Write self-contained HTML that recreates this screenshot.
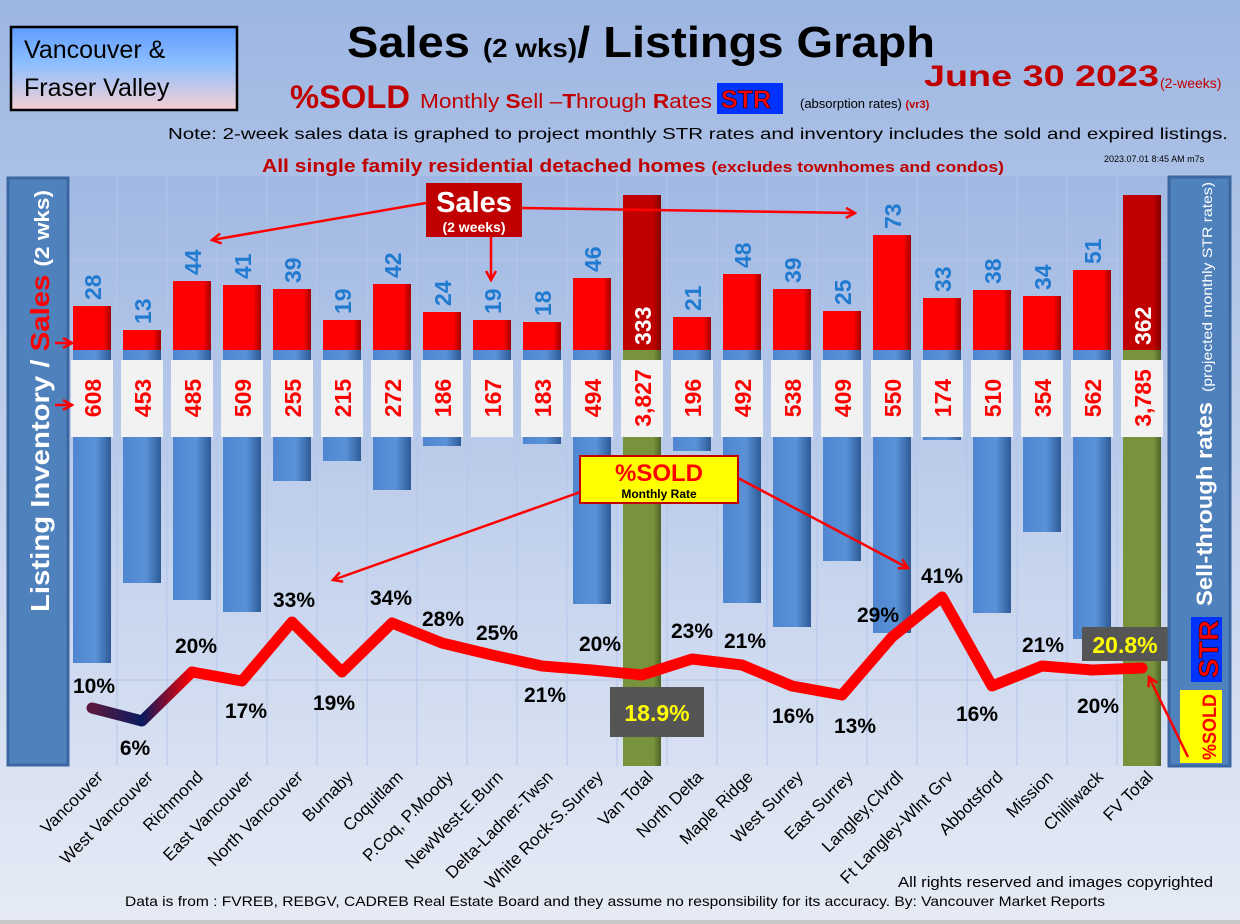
<!DOCTYPE html>
<html><head><meta charset="utf-8"><style>
html,body{margin:0;padding:0;width:1240px;height:924px;overflow:hidden}
svg{display:block}
text{font-family:"Liberation Sans",sans-serif}
</style></head><body>
<svg width="1240" height="924" viewBox="0 0 1240 924" xmlns="http://www.w3.org/2000/svg">
<defs>
<linearGradient id="bg" x1="0" y1="0" x2="0" y2="1"><stop offset="0" stop-color="#9db6e2"/><stop offset="0.6" stop-color="#c8d5ee"/><stop offset="1" stop-color="#e6ebf5"/></linearGradient>
<linearGradient id="plot" x1="0" y1="0" x2="0" y2="1"><stop offset="0" stop-color="#a0b8e3"/><stop offset="1" stop-color="#d8e1f2"/></linearGradient>
<linearGradient id="vbox" x1="0" y1="0" x2="0" y2="1"><stop offset="0" stop-color="#5e9bff"/><stop offset="0.45" stop-color="#8ec0ff"/><stop offset="1" stop-color="#f7cfd2"/></linearGradient>
<linearGradient id="blue" x1="0" y1="0" x2="1" y2="0"><stop offset="0" stop-color="#4f86d0"/><stop offset="0.6" stop-color="#5a92d8"/><stop offset="1" stop-color="#2e5a96"/></linearGradient>
<linearGradient id="red" x1="0" y1="0" x2="1" y2="0"><stop offset="0" stop-color="#ff0000"/><stop offset="0.8" stop-color="#ff0000"/><stop offset="1" stop-color="#a00000"/></linearGradient>
<linearGradient id="dred" x1="0" y1="0" x2="1" y2="0"><stop offset="0" stop-color="#c00000"/><stop offset="0.8" stop-color="#c00000"/><stop offset="1" stop-color="#800000"/></linearGradient>
<linearGradient id="green" x1="0" y1="0" x2="1" y2="0"><stop offset="0" stop-color="#77933c"/><stop offset="0.8" stop-color="#77933c"/><stop offset="1" stop-color="#4f6326"/></linearGradient>
<linearGradient id="seg" x1="92" y1="0" x2="192" y2="0" gradientUnits="userSpaceOnUse"><stop offset="0" stop-color="#5a1a40"/><stop offset="0.5" stop-color="#0a1a60"/><stop offset="1" stop-color="#ff0000"/></linearGradient>
<marker id="ar" markerWidth="12" markerHeight="12" refX="10" refY="6" orient="auto" markerUnits="userSpaceOnUse"><path d="M1,1 L10,6 L1,11" fill="none" stroke="#ff0000" stroke-width="2.5"/></marker>
</defs>
<rect width="1240" height="924" fill="url(#bg)"/>
<rect x="70" y="176" width="1098" height="590" fill="url(#plot)"/>
<g stroke="#b4c6ea" stroke-width="1">
<line x1="70" y1="260" x2="1168" y2="260"/><line x1="70" y1="418" x2="1168" y2="418"/><line x1="70" y1="680" x2="1168" y2="680"/>
<line x1="117" y1="176" x2="117" y2="766"/><line x1="167" y1="176" x2="167" y2="766"/><line x1="217" y1="176" x2="217" y2="766"/><line x1="267" y1="176" x2="267" y2="766"/><line x1="317" y1="176" x2="317" y2="766"/><line x1="367" y1="176" x2="367" y2="766"/><line x1="417" y1="176" x2="417" y2="766"/><line x1="467" y1="176" x2="467" y2="766"/><line x1="517" y1="176" x2="517" y2="766"/><line x1="567" y1="176" x2="567" y2="766"/><line x1="617" y1="176" x2="617" y2="766"/><line x1="667" y1="176" x2="667" y2="766"/><line x1="717" y1="176" x2="717" y2="766"/><line x1="767" y1="176" x2="767" y2="766"/><line x1="817" y1="176" x2="817" y2="766"/><line x1="867" y1="176" x2="867" y2="766"/><line x1="917" y1="176" x2="917" y2="766"/><line x1="967" y1="176" x2="967" y2="766"/><line x1="1017" y1="176" x2="1017" y2="766"/><line x1="1067" y1="176" x2="1067" y2="766"/><line x1="1117" y1="176" x2="1117" y2="766"/>
</g>
<!-- header -->
<rect x="11" y="27" width="226" height="83" fill="url(#vbox)" stroke="#000" stroke-width="2.5"/>
<text x="24" y="58" font-size="25" fill="#000">Vancouver &amp;</text>
<text x="24" y="96" font-size="25" fill="#000">Fraser Valley</text>
<text x="347" y="57" font-size="44" font-weight="bold" fill="#000" textLength="588" lengthAdjust="spacingAndGlyphs">Sales <tspan font-size="26">(2 wks)</tspan>/ Listings Graph</text>
<text x="924" y="86" font-size="30" font-weight="bold" fill="#c00000" textLength="235" lengthAdjust="spacingAndGlyphs">June 30  2023</text>
<text x="1160" y="88" font-size="14" fill="#c00000">(2-weeks)</text>
<text x="290" y="108" font-size="32" font-weight="bold" fill="#c00000" textLength="120" lengthAdjust="spacingAndGlyphs">%SOLD</text>
<text x="420" y="108" font-size="20" fill="#c00000" textLength="292" lengthAdjust="spacingAndGlyphs">Monthly <tspan font-weight="bold">S</tspan>ell –<tspan font-weight="bold">T</tspan>hrough <tspan font-weight="bold">R</tspan>ates</text>
<rect x="717" y="83" width="66" height="31" fill="#0033ff"/>
<text x="721" y="108" font-size="25" font-weight="bold" fill="#ff0000" stroke="#000" stroke-width="0.5">STR</text>
<text x="800" y="108" font-size="13" fill="#000">(absorption rates) <tspan fill="#c00000" font-size="11" font-weight="bold">(vr3)</tspan></text>
<text x="168" y="139" font-size="16" fill="#000" textLength="1060" lengthAdjust="spacingAndGlyphs">Note: 2-week sales data is graphed to project monthly STR rates and inventory includes the sold and expired listings.</text>
<text x="262" y="172" font-size="18" font-weight="bold" fill="#c00000" textLength="742" lengthAdjust="spacingAndGlyphs">All single family residential detached homes <tspan font-size="15">(excludes townhomes and condos)</tspan></text>
<text x="1104" y="162" font-size="9" fill="#000">2023.07.01 8:45 AM m7s</text>
<!-- blue bars -->
<g fill="url(#blue)">
<rect x="73" y="350" width="38" height="313"/><rect x="123" y="350" width="38" height="233"/><rect x="173" y="350" width="38" height="250"/><rect x="223" y="350" width="38" height="262"/><rect x="273" y="350" width="38" height="131"/><rect x="323" y="350" width="38" height="111"/><rect x="373" y="350" width="38" height="140"/><rect x="423" y="350" width="38" height="96"/><rect x="473" y="350" width="38" height="86"/><rect x="523" y="350" width="38" height="94"/><rect x="573" y="350" width="38" height="254"/><rect x="673" y="350" width="38" height="101"/><rect x="723" y="350" width="38" height="253"/><rect x="773" y="350" width="38" height="277"/><rect x="823" y="350" width="38" height="211"/><rect x="873" y="350" width="38" height="283"/><rect x="923" y="350" width="38" height="90"/><rect x="973" y="350" width="38" height="263"/><rect x="1023" y="350" width="38" height="182"/><rect x="1073" y="350" width="38" height="289"/>
</g>
<rect x="623" y="350" width="38" height="416" fill="url(#green)"/><rect x="1123" y="350" width="38" height="416" fill="url(#green)"/>
<!-- red bars -->
<g fill="url(#red)">
<rect x="73" y="306" width="38" height="44"/><rect x="123" y="330" width="38" height="20"/><rect x="173" y="281" width="38" height="69"/><rect x="223" y="285" width="38" height="65"/><rect x="273" y="289" width="38" height="61"/><rect x="323" y="320" width="38" height="30"/><rect x="373" y="284" width="38" height="66"/><rect x="423" y="312" width="38" height="38"/><rect x="473" y="320" width="38" height="30"/><rect x="523" y="322" width="38" height="28"/><rect x="573" y="278" width="38" height="72"/><rect x="673" y="317" width="38" height="33"/><rect x="723" y="274" width="38" height="76"/><rect x="773" y="289" width="38" height="61"/><rect x="823" y="311" width="38" height="39"/><rect x="873" y="235" width="38" height="115"/><rect x="923" y="298" width="38" height="52"/><rect x="973" y="290" width="38" height="60"/><rect x="1023" y="296" width="38" height="54"/><rect x="1073" y="270" width="38" height="80"/>
</g>
<rect x="623" y="195" width="38" height="155" fill="url(#dred)"/><rect x="1123" y="195" width="38" height="155" fill="url(#dred)"/>
<!-- sales labels -->
<g font-size="23" font-weight="bold" fill="#1f7ad0">
<text transform="translate(101,300) rotate(-90)">28</text>
<text transform="translate(151,324) rotate(-90)">13</text>
<text transform="translate(201,275) rotate(-90)">44</text>
<text transform="translate(251,279) rotate(-90)">41</text>
<text transform="translate(301,283) rotate(-90)">39</text>
<text transform="translate(351,314) rotate(-90)">19</text>
<text transform="translate(401,278) rotate(-90)">42</text>
<text transform="translate(451,306) rotate(-90)">24</text>
<text transform="translate(501,314) rotate(-90)">19</text>
<text transform="translate(551,316) rotate(-90)">18</text>
<text transform="translate(601,272) rotate(-90)">46</text>
<text transform="translate(701,311) rotate(-90)">21</text>
<text transform="translate(751,268) rotate(-90)">48</text>
<text transform="translate(801,283) rotate(-90)">39</text>
<text transform="translate(851,305) rotate(-90)">25</text>
<text transform="translate(901,229) rotate(-90)">73</text>
<text transform="translate(951,292) rotate(-90)">33</text>
<text transform="translate(1001,284) rotate(-90)">38</text>
<text transform="translate(1051,290) rotate(-90)">34</text>
<text transform="translate(1101,264) rotate(-90)">51</text>
</g>
<g font-size="23" font-weight="bold" fill="#fff">
<text transform="translate(651,345) rotate(-90)">333</text>
<text transform="translate(1151,345) rotate(-90)">362</text>
</g>
<!-- inventory boxes -->
<g fill="#f2f2f2">
<rect x="71" y="360" width="42" height="77"/><rect x="121" y="360" width="42" height="77"/><rect x="171" y="360" width="42" height="77"/><rect x="221" y="360" width="42" height="77"/><rect x="271" y="360" width="42" height="77"/><rect x="321" y="360" width="42" height="77"/><rect x="371" y="360" width="42" height="77"/><rect x="421" y="360" width="42" height="77"/><rect x="471" y="360" width="42" height="77"/><rect x="521" y="360" width="42" height="77"/><rect x="571" y="360" width="42" height="77"/><rect x="621" y="360" width="42" height="77"/><rect x="671" y="360" width="42" height="77"/><rect x="721" y="360" width="42" height="77"/><rect x="771" y="360" width="42" height="77"/><rect x="821" y="360" width="42" height="77"/><rect x="871" y="360" width="42" height="77"/><rect x="921" y="360" width="42" height="77"/><rect x="971" y="360" width="42" height="77"/><rect x="1021" y="360" width="42" height="77"/><rect x="1071" y="360" width="42" height="77"/><rect x="1121" y="360" width="42" height="77"/>
</g>
<g font-size="23" font-weight="bold" fill="#ff0000" text-anchor="middle">
<text transform="translate(101,398) rotate(-90)">608</text>
<text transform="translate(151,398) rotate(-90)">453</text>
<text transform="translate(201,398) rotate(-90)">485</text>
<text transform="translate(251,398) rotate(-90)">509</text>
<text transform="translate(301,398) rotate(-90)">255</text>
<text transform="translate(351,398) rotate(-90)">215</text>
<text transform="translate(401,398) rotate(-90)">272</text>
<text transform="translate(451,398) rotate(-90)">186</text>
<text transform="translate(501,398) rotate(-90)">167</text>
<text transform="translate(551,398) rotate(-90)">183</text>
<text transform="translate(601,398) rotate(-90)">494</text>
<text transform="translate(651,398) rotate(-90)">3,827</text>
<text transform="translate(701,398) rotate(-90)">196</text>
<text transform="translate(751,398) rotate(-90)">492</text>
<text transform="translate(801,398) rotate(-90)">538</text>
<text transform="translate(851,398) rotate(-90)">409</text>
<text transform="translate(901,398) rotate(-90)">550</text>
<text transform="translate(951,398) rotate(-90)">174</text>
<text transform="translate(1001,398) rotate(-90)">510</text>
<text transform="translate(1051,398) rotate(-90)">354</text>
<text transform="translate(1101,398) rotate(-90)">562</text>
<text transform="translate(1151,398) rotate(-90)">3,785</text>
</g>
<!-- line -->
<polyline points="192,672 242,681 292,622 342,672 392,623 442,643 492,655 542,666 592,670 642,675 692,659 742,665 792,686 842,695 892,637 942,597 992,686 1042,666 1092,670 1142,668" fill="none" stroke="#ff0000" stroke-width="11" stroke-linejoin="round" stroke-linecap="round"/>
<polyline points="92,708 142,721 192,672" fill="none" stroke="url(#seg)" stroke-width="11" stroke-linejoin="round" stroke-linecap="round"/>
<!-- pct labels -->
<g font-size="21" font-weight="bold" fill="#000" text-anchor="middle">
<text x="94" y="693">10%</text><text x="135" y="755">6%</text><text x="196" y="653">20%</text><text x="246" y="718">17%</text><text x="294" y="607">33%</text><text x="334" y="710">19%</text><text x="391" y="605">34%</text><text x="443" y="626">28%</text><text x="497" y="640">25%</text><text x="545" y="702">21%</text><text x="600" y="651">20%</text>
<text x="692" y="638">23%</text><text x="745" y="648">21%</text><text x="793" y="723">16%</text><text x="855" y="733">13%</text><text x="878" y="622">29%</text><text x="942" y="583">41%</text><text x="977" y="721">16%</text><text x="1043" y="652">21%</text><text x="1098" y="713">20%</text>
</g>
<rect x="610" y="687" width="94" height="50" fill="#555"/>
<text x="657" y="721" font-size="23" font-weight="bold" fill="#ffff00" text-anchor="middle">18.9%</text>
<rect x="1082" y="627" width="86" height="34" fill="#555"/>
<text x="1125" y="653" font-size="23" font-weight="bold" fill="#ffff00" text-anchor="middle">20.8%</text>
<!-- side panels -->
<rect x="8" y="178" width="60" height="587" fill="#4f81bd" stroke="#3b66a0" stroke-width="3"/>
<text transform="translate(49,612) rotate(-90)" font-size="26" font-weight="bold" fill="#fff" textLength="422" lengthAdjust="spacingAndGlyphs">Listing Inventory / <tspan fill="#ff0000">Sales</tspan> <tspan font-size="20">(2  wks)</tspan></text>
<rect x="1169" y="177" width="61" height="589" fill="#4f81bd" stroke="#3b66a0" stroke-width="3"/>
<text transform="translate(1212,606) rotate(-90)" font-size="22" font-weight="bold" fill="#fff" textLength="204" lengthAdjust="spacingAndGlyphs">Sell-through rates</text>
<text transform="translate(1212,392) rotate(-90)" font-size="14" fill="#fff" textLength="210" lengthAdjust="spacingAndGlyphs">(projected monthly STR rates)</text>
<rect x="1191" y="617" width="31" height="65" fill="#0033ff"/>
<text transform="translate(1218,678) rotate(-90)" font-size="28" font-weight="bold" fill="#ff0000" stroke="#000" stroke-width="0.5" textLength="58" lengthAdjust="spacingAndGlyphs">STR</text>
<rect x="1180" y="690" width="42" height="73" fill="#ffff00"/>
<text transform="translate(1216,760) rotate(-90)" font-size="19" font-weight="bold" fill="#ff0000" textLength="66" lengthAdjust="spacingAndGlyphs">%SOLD</text>
<!-- callouts -->
<g stroke="#ff0000" stroke-width="2.5" fill="none">
<line x1="426" y1="203" x2="212" y2="240" marker-end="url(#ar)"/>
<line x1="491" y1="237" x2="491" y2="280" marker-end="url(#ar)"/>
<line x1="522" y1="208" x2="855" y2="213" marker-end="url(#ar)"/>
<line x1="586" y1="490" x2="333" y2="580" marker-end="url(#ar)"/>
<line x1="738" y1="478" x2="908" y2="568" marker-end="url(#ar)"/>
<line x1="1188" y1="757" x2="1149" y2="677" marker-end="url(#ar)"/>
<line x1="55" y1="343" x2="72" y2="343" marker-end="url(#ar)"/>
<line x1="55" y1="405" x2="72" y2="405" marker-end="url(#ar)"/>
</g>
<rect x="426" y="183" width="96" height="54" fill="#c00000"/>
<text x="474" y="212" font-size="29" font-weight="bold" fill="#fff" text-anchor="middle">Sales</text>
<text x="474" y="232" font-size="14" font-weight="bold" fill="#fff" text-anchor="middle">(2 weeks)</text>
<rect x="580" y="456" width="158" height="47" fill="#ffff00" stroke="#c00000" stroke-width="2"/>
<text x="659" y="481" font-size="24" font-weight="bold" fill="#ff0000" text-anchor="middle">%SOLD</text>
<text x="659" y="498" font-size="12" font-weight="bold" fill="#000" text-anchor="middle">Monthly Rate</text>
<!-- x labels -->
<g font-size="17" fill="#000" text-anchor="end">
<text transform="translate(104,778) rotate(-45)">Vancouver</text>
<text transform="translate(154,778) rotate(-45)">West Vancouver</text>
<text transform="translate(204,778) rotate(-45)">Richmond</text>
<text transform="translate(254,778) rotate(-45)">East Vancouver</text>
<text transform="translate(304,778) rotate(-45)">North Vancouver</text>
<text transform="translate(354,778) rotate(-45)">Burnaby</text>
<text transform="translate(404,778) rotate(-45)">Coquitlam</text>
<text transform="translate(454,778) rotate(-45)">P.Coq, P.Moody</text>
<text transform="translate(504,778) rotate(-45)">NewWest-E.Burn</text>
<text transform="translate(554,778) rotate(-45)">Delta-Ladner-Twsn</text>
<text transform="translate(604,778) rotate(-45)">White Rock-S.Surrey</text>
<text transform="translate(654,778) rotate(-45)">Van Total</text>
<text transform="translate(704,778) rotate(-45)">North Delta</text>
<text transform="translate(754,778) rotate(-45)">Maple Ridge</text>
<text transform="translate(804,778) rotate(-45)">West Surrey</text>
<text transform="translate(854,778) rotate(-45)">East Surrey</text>
<text transform="translate(904,778) rotate(-45)">Langley,Clvrdl</text>
<text transform="translate(954,778) rotate(-45)">Ft Langley-Wlnt Grv</text>
<text transform="translate(1004,778) rotate(-45)">Abbotsford</text>
<text transform="translate(1054,778) rotate(-45)">Mission</text>
<text transform="translate(1104,778) rotate(-45)">Chilliwack</text>
<text transform="translate(1154,778) rotate(-45)">FV Total</text>
</g>
<text x="898" y="887" font-size="15" fill="#000" textLength="315" lengthAdjust="spacingAndGlyphs">All rights reserved and  images copyrighted</text>
<text x="125" y="906" font-size="14" fill="#000" textLength="980" lengthAdjust="spacingAndGlyphs">Data is from : FVREB, REBGV, CADREB Real Estate Board and they assume no responsibility for its accuracy. By: Vancouver Market Reports</text>
<rect x="0" y="920" width="1240" height="4" fill="#c8c8c8"/>
</svg>
</body></html>
